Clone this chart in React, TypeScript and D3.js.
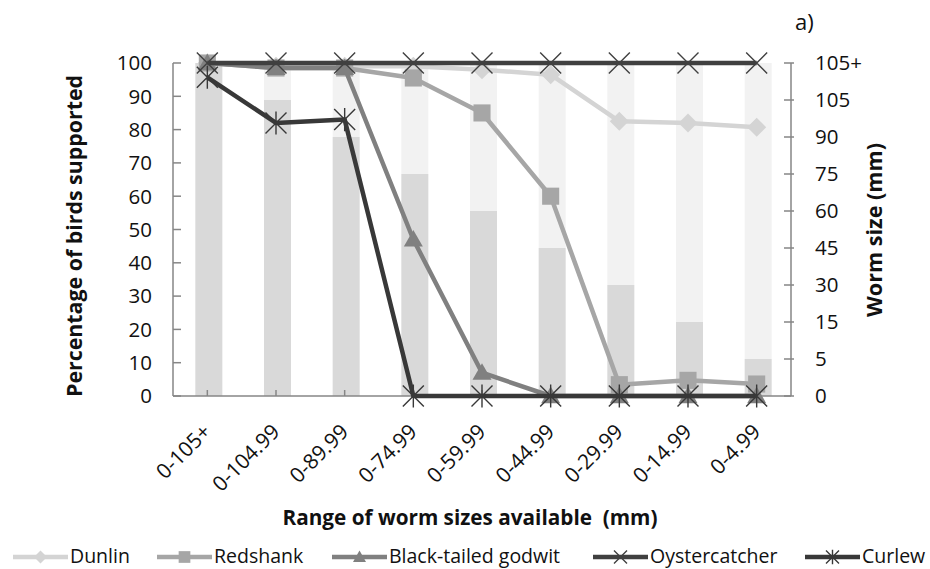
import React from 'react';
import * as d3 from 'd3';

const CATEGORIES = ['0-105+', '0-104.99', '0-89.99', '0-74.99', '0-59.99', '0-44.99', '0-29.99', '0-14.99', '0-4.99'];
const WORM_TICKS = ['0', '5', '15', '30', '45', '60', '75', '90', '105', '105+'];
const BAR_TOP = ['105+', '105', '90', '75', '60', '45', '30', '15', '5'];
const PCT_TICKS = [0, 10, 20, 30, 40, 50, 60, 70, 80, 90, 100];

const DUNLIN = [100, 99, 99, 99, 98, 96.5, 82.5, 82, 80.7];
const REDSHANK = [100, 98.5, 98.5, 95.5, 85, 60, 3.4, 4.7, 3.6];
const GODWIT = [100, 98.5, 98.5, 47, 7, 0, 0, 0, 0];
const OYSTERCATCHER = [100, 100, 100, 100, 100, 100, 100, 100, 100];
const CURLEW = [95.7, 82, 83, 0, 0, 0, 0, 0, 0];

const FONT = "'Open Sans', sans-serif";

type Series = { name: string; values: number[]; color: string; marker: string };
const SERIES: Series[] = [
    { name: 'Dunlin', values: DUNLIN, color: '#d4d4d4', marker: 'diamond' },
    { name: 'Redshank', values: REDSHANK, color: '#a6a6a6', marker: 'square' },
    { name: 'Black-tailed godwit', values: GODWIT, color: '#808080', marker: 'triangle' },
    { name: 'Oystercatcher', values: OYSTERCATCHER, color: '#404040', marker: 'x' },
    { name: 'Curlew', values: CURLEW, color: '#383838', marker: 'star' },
];

// legend sample start positions
const LEGEND_POS = [13, 157, 332, 593, 805];

function Marker({ type, x, y, s, color }: { type: string; x: number; y: number; s: number; color: string }) {
    const r = s / 2;
    if (type === 'diamond')
        return <path d={`M${x},${y - r}L${x + r},${y}L${x},${y + r}L${x - r},${y}Z`} fill={color} />;
    if (type === 'square')
        return <rect x={x - r * 0.9} y={y - r * 0.9} width={r * 1.8} height={r * 1.8} fill={color} />;
    if (type === 'triangle')
        return <path d={`M${x},${y - r}L${x + r},${y + r * 0.75}L${x - r},${y + r * 0.75}Z`} fill={color} />;
    if (type === 'x')
        return <path d={`M${x - r},${y - r}L${x + r},${y + r}M${x - r},${y + r}L${x + r},${y - r}`} stroke={color} strokeWidth={1.4} fill="none" />;
    return (
        <path
            d={`M${x - r},${y - r}L${x + r},${y + r}M${x - r},${y + r}L${x + r},${y - r}M${x},${y - r * 1.1}L${x},${y + r * 1.1}`}
            stroke={color} strokeWidth={1.4} fill="none"
        />
    );
}

export default function App() {
    const width = 930;
    const height = 569;
    const left = 173;
    const right = 791;
    const top = 63;
    const bottom = 396;

    const x = d3.scaleBand<string>().domain(CATEGORIES).range([left, right]);
    const y = d3.scaleLinear().domain([0, 100]).range([bottom, top]);
    const yR = d3.scalePoint<string>().domain(WORM_TICKS).range([bottom, top]);
    const cx = (c: string) => (x(c) as number) + x.bandwidth() / 2;
    const barW = 27;

    const line = d3.line<number>()
        .x((d, i) => cx(CATEGORIES[i]))
        .y(d => y(d));

    const axisColor = '#868686';

    return (
        <svg width={width} height={height} style={{ position: 'absolute', left: 0, top: 0, background: '#fff' }}>
            {/* bars */}
            {CATEGORIES.map((c, i) => {
                const topY = yR(BAR_TOP[i]) as number;
                const fullY = yR('105+') as number;
                return (
                    <g key={c}>
                        <rect x={cx(c) - barW / 2 + 1.5} y={fullY} width={barW} height={topY - fullY} fill="#f2f2f2" />
                        <rect x={cx(c) - barW / 2 + 1.5} y={topY} width={barW} height={bottom - topY} fill="#d9d9d9" />
                    </g>
                );
            })}

            {/* left axis */}
            <line x1={left} x2={left} y1={top} y2={bottom} stroke={axisColor} strokeWidth={1.5} />
            {PCT_TICKS.map(t => (
                <g key={t}>
                    <line x1={left} x2={left + 8} y1={y(t)} y2={y(t)} stroke={axisColor} strokeWidth={1.5} />
                    <text x={152} y={y(t)} dy="0.36em" textAnchor="end" fontFamily={FONT} fontSize={20.5} fill="#111">{t}</text>
                </g>
            ))}

            {/* bottom axis */}
            <line x1={left} x2={right} y1={bottom} y2={bottom} stroke={axisColor} strokeWidth={1.5} />
            {CATEGORIES.map(c => (
                <g key={c}>
                    <line x1={cx(c)} x2={cx(c)} y1={bottom} y2={bottom - 6} stroke={axisColor} strokeWidth={1.5} />
                    <text
                        transform={`translate(${cx(c) + 5},${bottom + 37}) rotate(-45)`}
                        textAnchor="end" fontFamily={FONT} fontSize={21} fill="#111"
                    >{c}</text>
                </g>
            ))}

            {/* right axis */}
            <line x1={right} x2={right} y1={top} y2={bottom} stroke={axisColor} strokeWidth={1.5} />
            {WORM_TICKS.map(t => (
                <g key={t}>
                    <line x1={right - 7} x2={right + 3} y1={yR(t)} y2={yR(t)} stroke={axisColor} strokeWidth={1.5} />
                    <text x={815} y={yR(t)} dy="0.36em" fontFamily={FONT} fontSize={20.5} fill="#111">{t}</text>
                </g>
            ))}

            {/* series */}
            {SERIES.map(s => (
                <g key={s.name}>
                    <path d={line(s.values) as string} fill="none" stroke={s.color} strokeWidth={4.5} strokeLinejoin="round" />
                    {s.values.map((v, i) => (
                        <Marker key={i} type={s.marker} x={cx(CATEGORIES[i])} y={y(v)} s={s.marker === 'x' || s.marker === 'star' ? 21 : 19} color={s.color} />
                    ))}
                </g>
            ))}

            {/* titles */}
            <text transform="translate(82,236) rotate(-90)" textAnchor="middle" fontFamily={FONT} fontWeight="bold" fontSize={21} textLength={322} lengthAdjust="spacingAndGlyphs" fill="#111">Percentage of birds supported</text>
            <text transform="translate(882,230) rotate(-90)" textAnchor="middle" fontFamily={FONT} fontWeight="bold" fontSize={21} textLength={174} lengthAdjust="spacingAndGlyphs" fill="#111">Worm size (mm)</text>
            <text x={470} y={525} textAnchor="middle" fontFamily={FONT} fontWeight="bold" fontSize={21} textLength={375} lengthAdjust="spacingAndGlyphs" fill="#111" style={{ whiteSpace: 'pre' }}>Range of worm sizes available  (mm)</text>
            <text x={795} y={30} fontFamily={FONT} fontSize={22} fill="#111">a)</text>

            {/* legend */}
            {SERIES.map((s, i) => {
                const x0 = LEGEND_POS[i];
                return (
                    <g key={s.name}>
                        <line x1={x0} x2={x0 + 55} y1={557} y2={557} stroke={s.color} strokeWidth={4.5} />
                        <Marker type={s.marker} x={x0 + 27.5} y={557} s={13} color={s.color} />
                        <text x={x0 + 57} y={563} fontFamily={FONT} fontSize={19.5} fill="#111">{s.name}</text>
                    </g>
                );
            })}
        </svg>
    );
}
